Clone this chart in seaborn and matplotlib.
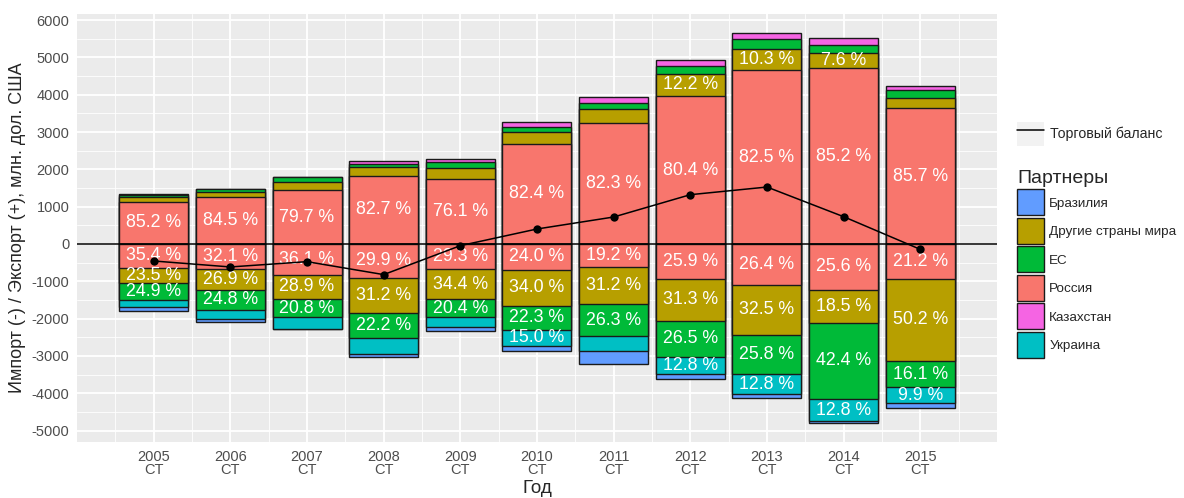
import numpy as np
import pandas as pd
import matplotlib
matplotlib.use("Agg")
import matplotlib.pyplot as plt
from matplotlib.patches import Patch
from matplotlib.lines import Line2D
from matplotlib.legend_handler import HandlerTuple
import seaborn as sns

# данные: итоги (млн. дол. США) и доли партнеров (%)
years = [str(y) for y in range(2005, 2016)]
export_total = [1332, 1483, 1804, 2215, 2286, 3260, 3938, 4929, 5643, 5518, 4241]
import_total = [1787, 2098, 2277, 3035, 2331, 2858, 3215, 3608, 4117, 4787, 4385]

exp_russia = [85.2, 84.5, 79.7, 82.7, 76.1, 82.4, 82.3, 80.4, 82.5, 85.2, 85.7]
exp_other = [9.0, 9.0, 12.8, 10.3, 13.2, 9.6, 9.6, 12.2, 10.3, 7.6, 6.6]
exp_eu = [5.3, 6.0, 7.0, 4.2, 7.0, 4.1, 4.1, 4.0, 4.5, 3.7, 4.8]
exp_kaz = [0.5, 0.5, 0.5, 2.8, 3.7, 3.9, 4.0, 3.4, 2.7, 3.5, 2.9]

imp_russia = [35.4, 32.1, 36.1, 29.9, 29.3, 24.0, 19.2, 25.9, 26.4, 25.6, 21.2]
imp_other = [23.5, 26.9, 28.9, 31.2, 34.4, 34.0, 31.2, 31.3, 32.5, 18.5, 50.2]
imp_eu = [24.9, 24.8, 20.8, 22.2, 20.4, 22.3, 26.3, 26.5, 25.8, 42.4, 16.1]
imp_ukraine = [10.5, 11.8, 13.7, 13.5, 11.5, 15.0, 12.4, 12.8, 12.8, 12.8, 9.9]
imp_brazil = [5.7, 4.4, 0.5, 3.2, 4.4, 4.7, 10.9, 3.5, 2.5, 0.7, 2.6]

partners = ["Бразилия", "Другие страны мира", "ЕС", "Россия", "Казахстан", "Украина"]
colors = {"Бразилия": "#619CFF", "Другие страны мира": "#B79F00", "ЕС": "#00BA38",
          "Россия": "#F8766D", "Казахстан": "#F564E3", "Украина": "#00BFC4"}

label_min = 415  # подписи только для крупных сегментов

sns.set_theme(style="darkgrid", rc={"axes.facecolor": "#EBEBEB", "grid.color": "white",
                                     "axes.unicode_minus": False})
plt.rcParams["font.family"] = ["Liberation Sans", "DejaVu Sans"]

fig = plt.figure(figsize=(11.84, 4.98), dpi=100)
ax = fig.add_axes([77 / 1184, 1 - 442 / 498, 920 / 1184, 428 / 498])


def stacked(ax, total, stack, sign):
    # stack: список (партнер, доли) от нуля наружу
    df = pd.DataFrame({"year": years})
    cum = np.zeros(len(years))
    layers = []
    for name, share in stack:
        vals = np.array(total) * np.array(share) / 100
        layers.append((name, cum.copy(), vals))
        cum = cum + vals
        df[name] = sign * cum
    # рисуем от внешнего слоя к внутреннему
    for name, _ in reversed(stack):
        sns.barplot(data=df, x="year", y=name, color=colors[name], saturation=1,
                    width=0.9, edgecolor="#1a1a1a", linewidth=1.0, errorbar=None, ax=ax)
    for name, base, vals in layers:
        for i, v in enumerate(vals):
            if v >= label_min:
                pct = v / total[i] * 100
                ax.text(i, sign * (base[i] + v / 2), f"{pct:.1f} %", color="white",
                        fontsize=12.8, ha="center", va="center")


stacked(ax, export_total,
        [("Россия", exp_russia), ("Другие страны мира", exp_other), ("ЕС", exp_eu),
         ("Казахстан", exp_kaz)], 1)
stacked(ax, import_total,
        [("Россия", imp_russia), ("Другие страны мира", imp_other), ("ЕС", imp_eu),
         ("Украина", imp_ukraine), ("Бразилия", imp_brazil)], -1)

ax.axhline(0, color="black", lw=1.1, zorder=3)
balance = np.array(export_total) - np.array(import_total)
sns.lineplot(x=np.arange(len(years)), y=balance, color="black", lw=1.1, marker="o",
             markersize=6, markeredgewidth=0, ax=ax, zorder=4)

ax.set_xlim(-1, 11)
ax.set_ylim(-5304, 6161)
ax.set_yticks(np.arange(-5000, 6001, 1000))
ax.set_yticks(np.arange(-4500, 6001, 1000), minor=True)
ax.set_xticks(np.arange(len(years)))
ax.set_xticks(np.arange(-0.5, 11, 1), minor=True)
ax.set_xticklabels([f"{y}\nCT" for y in years], linespacing=0.95)
ax.grid(True, which="major", color="white", lw=1.3)
ax.grid(True, which="minor", color="white", lw=0.6)
ax.set_axisbelow(True)
ax.tick_params(axis="both", which="major", length=3.5, width=1, color="#333333",
               labelsize=10.5, labelcolor="#4D4D4D", pad=2)
ax.tick_params(which="minor", length=0)
for s in ax.spines.values():
    s.set_visible(False)
ax.set_xlabel("Год", fontsize=13.5, labelpad=2)
ax.set_ylabel("Импорт (-) / Экспорт (+), млн. дол. США", fontsize=13, labelpad=4)

# легенды
bal_handle = (Patch(facecolor="#F2F2F2", edgecolor="none"), Line2D([], [], color="black", lw=1.1))
leg1 = fig.legend([bal_handle], ["Торговый баланс"], handler_map={tuple: HandlerTuple(ndivide=1)},
                  loc="center left", bbox_to_anchor=(1017 / 1184, 1 - 134 / 498), frameon=False,
                  fontsize=10.2, handlelength=1.9, handleheight=2.3, handletextpad=0.4,
                  borderpad=0, borderaxespad=0)
handles = [Patch(facecolor=colors[p], edgecolor="#1a1a1a", lw=1.0) for p in partners]
leg2 = fig.legend(handles, partners, title="Партнеры", loc="upper left",
                  bbox_to_anchor=(1017 / 1184, 1 - 170 / 498), frameon=False, fontsize=9.7,
                  title_fontsize=14, handlelength=2.0, handleheight=2.6, labelspacing=0.18,
                  handletextpad=0.4, borderpad=0, borderaxespad=0)
leg2._legend_box.align = "left"

fig.savefig("out.png", dpi=100)
